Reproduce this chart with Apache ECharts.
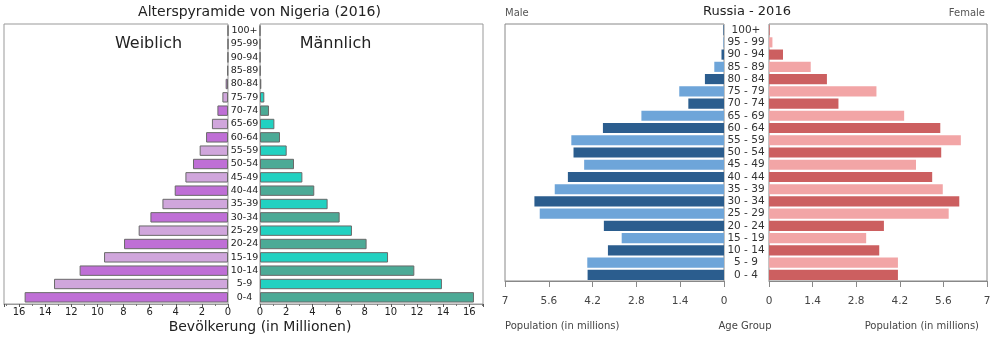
<!DOCTYPE html>
<html>
<head>
<meta charset="utf-8">
<script src="https://cdn.jsdelivr.net/npm/echarts@6/dist/echarts.min.js"></script>
<style>
  html, body { margin: 0; padding: 0; background: #fff; }
  #chart { width: 994px; height: 346px; }
</style>
</head>
<body>
<div id="chart"></div>
<script>
// Nigeria 2016 (millions), bottom age group first
const ngAges = ['0-4','5-9','10-14','15-19','20-24','25-29','30-34','35-39','40-44','45-49',
  '50-54','55-59','60-64','65-69','70-74','75-79','80-84','85-89','90-94','95-99','100+'];
const ngFemale = [15.57, 13.32, 11.36, 9.49, 7.96, 6.84, 5.94, 5.02, 4.08, 3.26,
  2.68, 2.17, 1.68, 1.23, 0.81, 0.43, 0.18, 0.05, 0.01, 0.0, 0.0];
const ngMale = [16.36, 13.91, 11.80, 9.79, 8.15, 7.03, 6.09, 5.17, 4.15, 3.24,
  2.60, 2.04, 1.53, 1.10, 0.69, 0.33, 0.10, 0.03, 0.01, 0.0, 0.0];

// Russia 2016 (millions)
const ruAges = ['0 - 4','5 - 9','10 - 14','15 - 19','20 - 24','25 - 29','30 - 34','35 - 39','40 - 44','45 - 49',
  '50 - 54','55 - 59','60 - 64','65 - 69','70 - 74','75 - 79','80 - 84','85 - 89','90 - 94','95 - 99','100+'];
const ruMale = [4.36, 4.37, 3.71, 3.27, 3.84, 5.89, 6.06, 5.41, 4.99, 4.47,
  4.81, 4.88, 3.87, 2.64, 1.14, 1.43, 0.61, 0.31, 0.08, 0.02, 0.02];
const ruFemale = [4.14, 4.14, 3.54, 3.12, 3.69, 5.77, 6.11, 5.58, 5.24, 4.72,
  5.53, 6.16, 5.50, 4.34, 2.23, 3.45, 1.86, 1.34, 0.45, 0.11, 0.02];

const ngTicks = [0, 2, 4, 6, 8, 10, 12, 14, 16];
const ruTicks = [0, 1.4, 2.8, 4.2, 5.6, 7];

const FONT = 'DejaVu Sans';

// alternating shades per age band
function striped(values, dark, light, border) {
  return values.map((v, i) => ({
    value: v,
    itemStyle: {
      color: i % 2 === 0 ? dark : light,
      borderColor: border || undefined,
      borderWidth: border ? 1 : 0
    }
  }));
}

function ngXAxis(gridIndex, max, inverse) {
  return {
    type: 'value', gridIndex, min: 0, max, interval: 2, inverse,
    axisLine: { show: true, lineStyle: { color: '#999' } },
    axisTick: { show: true, length: 3, lineStyle: { color: '#555' } },
    minorTick: { show: true, splitNumber: 2, length: 2, lineStyle: { color: '#777' } },
    splitLine: { show: false },
    axisLabel: {
      margin: 3, fontFamily: FONT, fontSize: 10, color: '#222',
      formatter: v => ngTicks.some(t => Math.abs(t - v) < 1e-6) ? String(v) : ''
    }
  };
}

function ruXAxis(gridIndex, inverse) {
  return {
    type: 'value', gridIndex, min: 0, max: 7, interval: 1.4, inverse,
    axisLine: { show: true, lineStyle: { color: '#888' } },
    axisTick: { show: true, length: 6, lineStyle: { color: '#888' } },
    splitLine: { show: false },
    axisLabel: {
      margin: 14.5, fontFamily: FONT, fontSize: 10.5, color: '#444',
      formatter: v => {
        const t = ruTicks.find(x => Math.abs(x - v) < 1e-6);
        return t === undefined ? '' : String(t);
      }
    }
  };
}

function hiddenY(gridIndex, data) {
  return {
    type: 'category', gridIndex, data,
    axisLine: { show: false }, axisTick: { show: false }, axisLabel: { show: false }
  };
}

function labelY(gridIndex, data, margin, size, color) {
  return {
    type: 'category', gridIndex, data, position: 'left',
    axisLine: { show: false }, axisTick: { show: false },
    axisLabel: { show: true, margin, align: 'center', fontFamily: FONT, fontSize: size, color, interval: 0 }
  };
}

const chart = echarts.init(document.getElementById('chart'), null, { renderer: 'canvas' });

chart.setOption({
  animation: false,
  backgroundColor: '#fff',
  grid: [
    { left: 4, top: 24, width: 224, height: 280, show: true, borderColor: '#999', borderWidth: 1, backgroundColor: '#fff' },
    { left: 260, top: 24, width: 223, height: 280, show: true, borderColor: '#999', borderWidth: 1, backgroundColor: '#fff' },
    { left: 505, top: 24, width: 219, height: 257, show: true, borderColor: '#888', borderWidth: 1, backgroundColor: '#fff' },
    { left: 769, top: 24, width: 218, height: 257, show: true, borderColor: '#888', borderWidth: 1, backgroundColor: '#fff' }
  ],
  xAxis: [
    ngXAxis(0, 17.15, true),
    ngXAxis(1, 17.05, false),
    ruXAxis(2, true),
    ruXAxis(3, false)
  ],
  yAxis: [
    hiddenY(0, ngAges),
    labelY(1, ngAges, 15.5, 9.5, '#222'),
    hiddenY(2, ruAges),
    labelY(3, ruAges, 23, 10.5, '#333')
  ],
  series: [
    { type: 'bar', name: 'Weiblich', xAxisIndex: 0, yAxisIndex: 0, barCategoryGap: '22%',
      data: striped(ngFemale, '#bf6fd6', '#d0a6dc', '#6a6a6a') },
    { type: 'bar', name: 'Männlich', xAxisIndex: 1, yAxisIndex: 1, barCategoryGap: '22%',
      data: striped(ngMale, '#4caa96', '#22d1c1', '#6a6a6a') },
    { type: 'bar', name: 'Male', xAxisIndex: 2, yAxisIndex: 2, barCategoryGap: '17%',
      data: striped(ruMale, '#2b5d8e', '#6ea5d9') },
    { type: 'bar', name: 'Female', xAxisIndex: 3, yAxisIndex: 3, barCategoryGap: '17%',
      data: striped(ruFemale, '#cc5f60', '#f2a5a6') }
  ],
  graphic: [
    { type: 'text', x: 259.5, y: 12, style: { text: 'Alterspyramide von Nigeria (2016)', font: '14px "DejaVu Sans"', fill: '#222', align: 'center', verticalAlign: 'middle' } },
    { type: 'text', x: 148.5, y: 44, style: { text: 'Weiblich', font: '16px "DejaVu Sans"', fill: '#222', align: 'center', verticalAlign: 'middle' } },
    { type: 'text', x: 335.5, y: 44, style: { text: 'Männlich', font: '16px "DejaVu Sans"', fill: '#222', align: 'center', verticalAlign: 'middle' } },
    { type: 'text', x: 260, y: 327, style: { text: 'Bevölkerung (in Millionen)', font: '14px "DejaVu Sans"', fill: '#222', align: 'center', verticalAlign: 'middle' } },

    { type: 'text', x: 747, y: 12, style: { text: 'Russia - 2016', font: '13px "DejaVu Sans"', fill: '#222', align: 'center', verticalAlign: 'middle' } },
    { type: 'text', x: 505, y: 13, style: { text: 'Male', font: '10px "DejaVu Sans"', fill: '#555', align: 'left', verticalAlign: 'middle' } },
    { type: 'text', x: 985, y: 13, style: { text: 'Female', font: '10px "DejaVu Sans"', fill: '#555', align: 'right', verticalAlign: 'middle' } },
    { type: 'text', x: 505, y: 326, style: { text: 'Population (in millions)', font: '10px "DejaVu Sans"', fill: '#444', align: 'left', verticalAlign: 'middle' } },
    { type: 'text', x: 745, y: 326, style: { text: 'Age Group', font: '10px "DejaVu Sans"', fill: '#444', align: 'center', verticalAlign: 'middle' } },
    { type: 'text', x: 979, y: 326, style: { text: 'Population (in millions)', font: '10px "DejaVu Sans"', fill: '#444', align: 'right', verticalAlign: 'middle' } }
  ]
});
</script>
</body>
</html>
